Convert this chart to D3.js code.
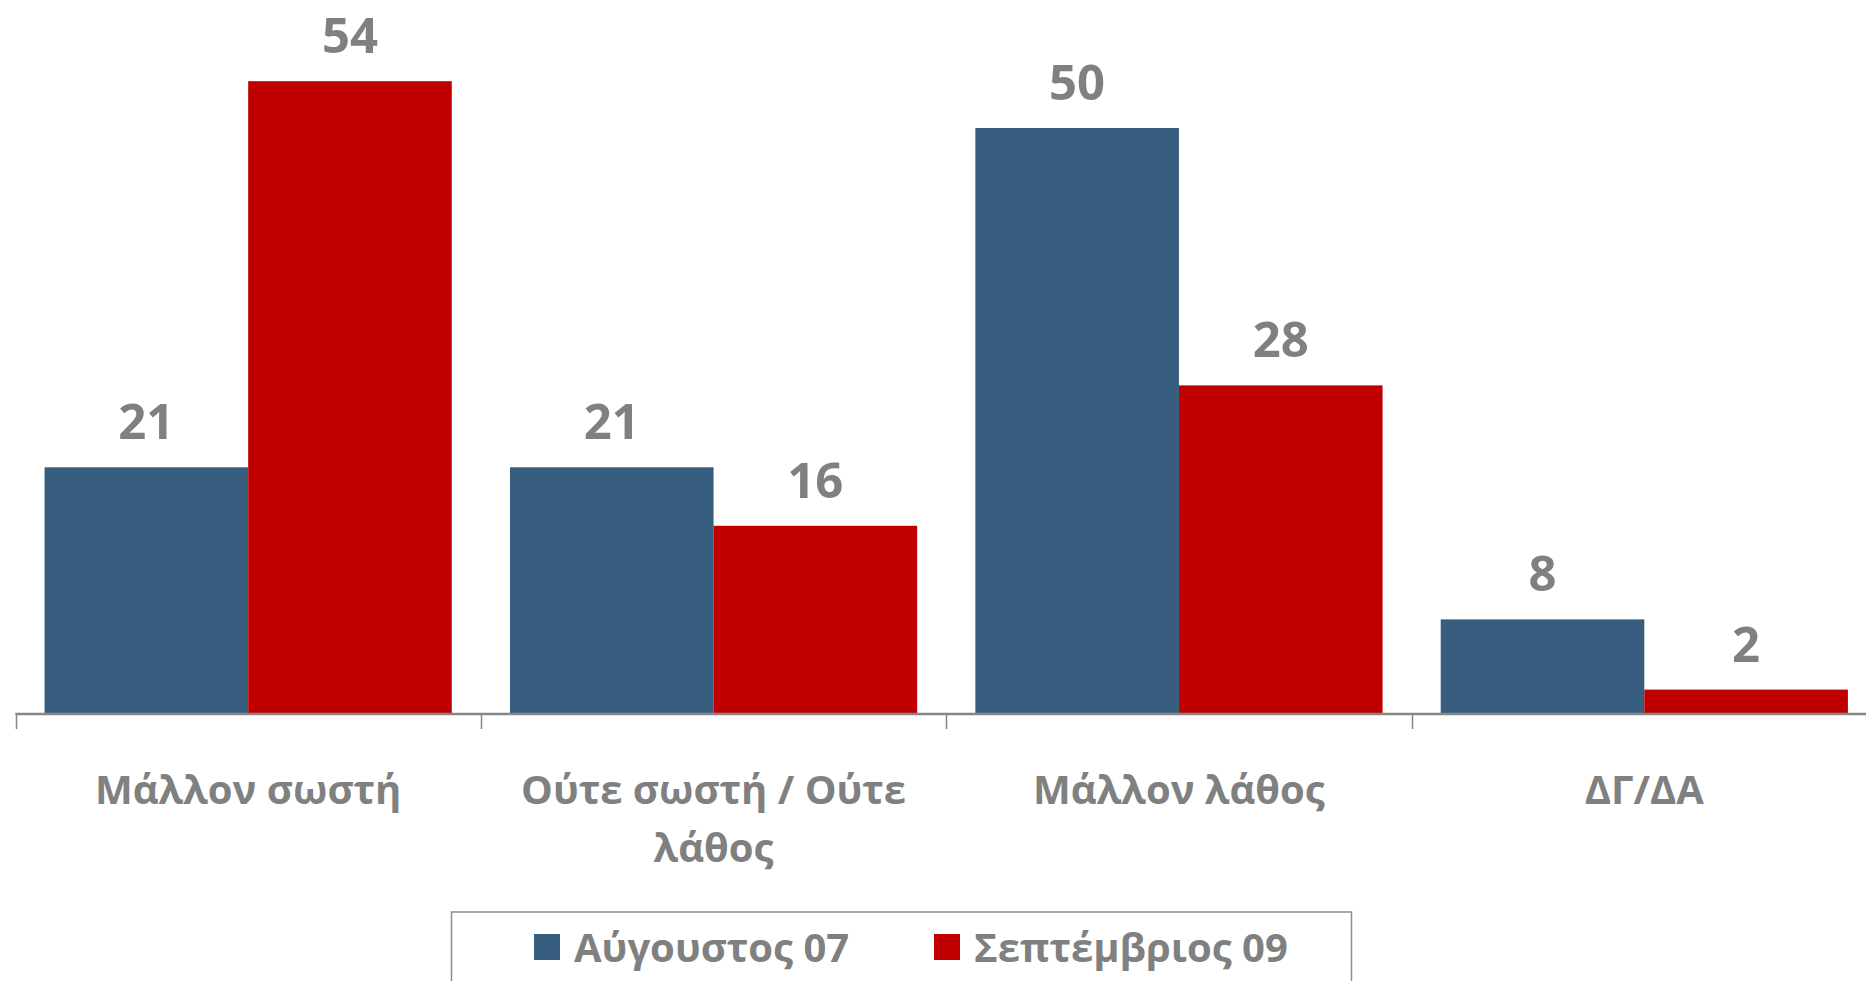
<!DOCTYPE html>
<html>
<head>
<meta charset="utf-8">
<script src="https://cdn.jsdelivr.net/npm/d3@7"></script>
<style>
  body { margin: 0; background: #fff; overflow: hidden; }
  text { font-family: "Open Sans", "Noto Sans", sans-serif; font-weight: bold; fill: #808080; }
</style>
</head>
<body>
<script>
var categories = ["Μάλλον σωστή", "Ούτε σωστή / Ούτε λάθος", "Μάλλον λάθος", "ΔΓ/ΔΑ"];
var seriesNames = ["Αύγουστος 07", "Σεπτέμβριος 09"];
var aug07 = [21, 21, 50, 8];
var sep09 = [54, 16, 28, 2];
var colors = ["#375e7e", "#c00000"];

(function() {
    var w = 1866, h = 981;
    var axisY = 713;

    var svg = d3.select("body").append("svg")
        .attr("width", w)
        .attr("height", h);

    var x = d3.scaleBand()
        .domain(categories)
        .range([15.5, 1877])
        .paddingInner(0.125)
        .paddingOuter(0.0625);

    var xs = d3.scaleBand()
        .domain(seriesNames)
        .range([0, x.bandwidth()]);

    var y = d3.scaleLinear()
        .domain([0, 60])
        .range([axisY, 11]);

    var rows = categories.map(function(c, i) {
        return { cat: c, vals: [aug07[i], sep09[i]] };
    });

    var groups = svg.selectAll("g.cat")
        .data(rows)
        .enter().append("g")
        .attr("class", "cat")
        .attr("transform", function(d) { return "translate(" + x(d.cat) + ",0)"; });

    groups.selectAll("rect")
        .data(function(d) { return d.vals.map(function(v, j) { return { s: seriesNames[j], v: v, j: j }; }); })
        .enter().append("rect")
        .attr("x", function(d) { return xs(d.s); })
        .attr("y", function(d) { return y(d.v); })
        .attr("width", xs.bandwidth())
        .attr("height", function(d) { return axisY - y(d.v); })
        .attr("fill", function(d) { return colors[d.j]; });

    // value labels
    groups.selectAll("text.val")
        .data(function(d) { return d.vals.map(function(v, j) { return { s: seriesNames[j], v: v }; }); })
        .enter().append("text")
        .attr("class", "val")
        .attr("x", function(d) { return xs(d.s) + xs.bandwidth() / 2; })
        .attr("y", function(d) { return y(d.v) - 28; })
        .attr("text-anchor", "middle")
        .attr("font-size", 49)
        .text(function(d) { return d.v; });

    // axis line + tick marks at category boundaries
    svg.append("line")
        .attr("x1", 15.5).attr("x2", w)
        .attr("y1", axisY + 1).attr("y2", axisY + 1)
        .attr("stroke", "#868686")
        .attr("stroke-width", 2.5);

    var edges = categories.map(function(c) { return x(c) - x.step() * x.paddingInner() / 2; });
    svg.selectAll("line.tick")
        .data(edges)
        .enter().append("line")
        .attr("class", "tick")
        .attr("x1", function(d) { return Math.round(d) + 0.5; })
        .attr("x2", function(d) { return Math.round(d) + 0.5; })
        .attr("y1", axisY).attr("y2", axisY + 16)
        .attr("stroke", "#868686")
        .attr("stroke-width", 1.5);

    // category labels, wrapped
    var maxW = x.step() * 0.95;
    categories.forEach(function(c) {
        var t = svg.append("text")
            .attr("x", x(c) + x.bandwidth() / 2)
            .attr("y", 804)
            .attr("text-anchor", "middle")
            .attr("font-size", 40);
        var words = c.split(" "), line = [];
        var ts = t.append("tspan").attr("x", x(c) + x.bandwidth() / 2).attr("dy", 0);
        words.forEach(function(wd) {
            line.push(wd);
            ts.text(line.join(" "));
            if (ts.node().getComputedTextLength() > maxW && line.length > 1) {
                line.pop();
                ts.text(line.join(" "));
                line = [wd];
                ts = t.append("tspan").attr("x", x(c) + x.bandwidth() / 2).attr("dy", 58).text(wd);
            }
        });
    });

    // legend
    var lg = svg.append("g");
    lg.append("rect")
        .attr("x", 451.5).attr("y", 912)
        .attr("width", 900).attr("height", 100)
        .attr("fill", "#fff")
        .attr("stroke", "#8c8c8c")
        .attr("stroke-width", 1.5);

    var legX = [534, 934];
    seriesNames.forEach(function(s, i) {
        lg.append("rect")
            .attr("x", legX[i]).attr("y", 934)
            .attr("width", 26).attr("height", 26)
            .attr("fill", colors[i]);
        lg.append("text")
            .attr("x", legX[i] + 40).attr("y", 962)
            .attr("font-size", 40)
            .text(s);
    });
})();
</script>
</body>
</html>
